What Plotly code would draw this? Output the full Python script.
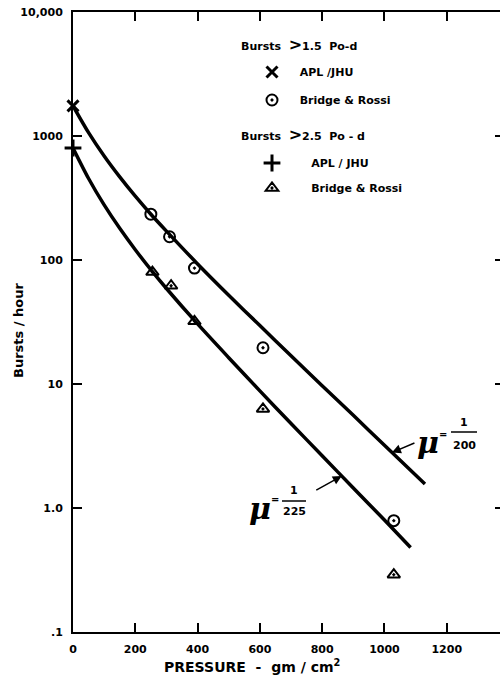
import numpy as np
import plotly.graph_objects as go

# ---------------- data ----------------
pressure_ticks = [0, 200, 400, 600, 800, 1000, 1200]
pressure_labels = ["0", "200", "400", "600", "800", "1000", "1200"]
rate_ticks = [0.1, 1, 10, 100, 1000, 10000]
rate_labels = [".1", "1.0", "10", "100", "1000", "10,000"]

# Bursts > 1.5 Po-d
apl15_x = [0]
apl15_y = [1750]
br15_x = [250, 310, 390, 610, 1030]
br15_y = [234, 154, 86, 19.6, 0.79]

# Bursts > 2.5 Po-d
apl25_x = [0]
apl25_y = [800]
br25_x = [255, 315, 390, 610, 1030]
br25_y = [80, 62, 32, 6.3, 0.29]

# theoretical curves (mu = 1/200 and mu = 1/225)
mu200_x = [0, 50, 100, 150, 200, 250, 300, 400, 500, 600, 700, 800, 900, 1000, 1130]
mu200_y = [1750, 1065, 690, 468, 327, 234, 171, 93, 52, 29.6, 16.9, 9.7, 5.6, 3.2, 1.56]
mu225_x = [0, 50, 100, 150, 200, 255, 300, 400, 500, 600, 700, 800, 900, 1000, 1084]
mu225_y = [800, 454, 278, 180, 121, 80.5, 58.9, 30.5, 16.3, 8.8, 4.8, 2.64, 1.45, 0.80, 0.48]

# ---------------- layout geometry (pixels) ----------------
W, H = 500, 677
L, R, T, B = 73, 500, 12, 632
FONT = "DejaVu Sans"
NB = "\u00a0"


def pxx(xp):
    return (xp - L) / (R - L)


def pxy(yp):
    return (B - yp) / (B - T)


fig = go.Figure()

line_style = dict(color="black", width=3.5, shape="spline", smoothing=0.8)
fig.add_trace(go.Scatter(x=mu200_x, y=mu200_y, mode="lines", line=line_style,
                         showlegend=False, hoverinfo="skip"))
fig.add_trace(go.Scatter(x=mu225_x, y=mu225_y, mode="lines", line=line_style,
                         showlegend=False, hoverinfo="skip"))

fig.add_trace(go.Scatter(x=apl15_x, y=apl15_y, mode="markers", name=NB * 2 + "APL /JHU",
                         marker=dict(symbol="x-thin", size=11, color="black",
                                     line=dict(color="black", width=3)),
                         cliponaxis=False, legend="legend"))
fig.add_trace(go.Scatter(x=br15_x, y=br15_y, mode="markers",
                         name=NB * 2 + "Bridge &amp; Rossi",
                         marker=dict(symbol="circle-open-dot", size=11, color="black",
                                     line=dict(color="black", width=2)),
                         cliponaxis=False, legend="legend2"))
fig.add_trace(go.Scatter(x=apl25_x, y=apl25_y, mode="markers", name=NB * 5 + "APL / JHU",
                         marker=dict(symbol="cross-thin", size=12, color="black",
                                     line=dict(color="black", width=3)),
                         cliponaxis=False, legend="legend3"))
fig.add_trace(go.Scatter(x=br25_x, y=br25_y, mode="markers",
                         name=NB * 5 + "Bridge &amp; Rossi",
                         marker=dict(symbol="triangle-up-open-dot", size=11, color="black",
                                     line=dict(color="black", width=2)),
                         cliponaxis=False, legend="legend4"))

# dummy trace so the right-hand tick axis is drawn
fig.add_trace(go.Scatter(x=[None], y=[None], yaxis="y2", showlegend=False,
                         hoverinfo="skip"))

legend_common = dict(xanchor="left", yanchor="middle", bgcolor="rgba(0,0,0,0)",
                     borderwidth=0, font=dict(family=FONT, size=11, color="black",
                                              weight="bold"),
                     itemclick=False, itemdoubleclick=False)
leg_rows = [(252, 72), (252, 100), (252, 163), (252, 188)]
legends = {}
for i, (lx, ly) in enumerate(leg_rows):
    key = "legend" if i == 0 else f"legend{i + 1}"
    legends[key] = dict(legend_common, x=pxx(lx), y=pxy(ly))

annotations = []


def txt(text, xp, yp, size=11, xanchor="center", family=FONT, angle=0):
    annotations.append(dict(text=text, x=pxx(xp), y=pxy(yp), xref="paper", yref="paper",
                            showarrow=False, xanchor=xanchor, yanchor="middle",
                            textangle=angle,
                            font=dict(family=family, size=size, color="black")))


# legend headings
txt("<b>Bursts  <span style='font-size:16px'>&gt;</span>1.5  Po-d</b>", 239, 44, xanchor="left")
txt("<b>Bursts  <span style='font-size:16px'>&gt;</span>2.5  Po - d</b>", 239, 134, xanchor="left")

# axis titles
txt("<b>Bursts / hour</b>", 18, 330, size=13, angle=-90)
txt("<b>PRESSURE  -  gm / cm<sup>2</sup></b>", 252, 666, size=14)

# mu labels
txt("<b><i>μ</i></b>", 428, 442, size=30, family="DejaVu Serif")
txt("<b>=</b>", 443, 434, size=10)
txt("<b>1</b>", 464, 422, size=11)
txt("<b>200</b>", 464, 445, size=11)
txt("<b><i>μ</i></b>", 260, 508, size=30, family="DejaVu Serif")
txt("<b>=</b>", 275, 499, size=10)
txt("<b>1</b>", 294, 490, size=11)
txt("<b>225</b>", 294, 512, size=11)

shapes = [
    dict(type="line", xref="paper", yref="paper", x0=pxx(451), x1=pxx(477),
         y0=pxy(432), y1=pxy(432), line=dict(color="black", width=1.5)),
    dict(type="line", xref="paper", yref="paper", x0=pxx(282), x1=pxx(306),
         y0=pxy(501), y1=pxy(501), line=dict(color="black", width=1.5)),
]

# arrows pointing at the curves
tip200_x = 1024
tip200_logy = np.interp(tip200_x, mu200_x, np.log10(mu200_y))
tip225_x = 863
tip225_logy = np.interp(tip225_x, mu225_x, np.log10(mu225_y))
for tx, tly, ax, ay in [(tip200_x, tip200_logy, 26, -11), (tip225_x, tip225_logy, -29, 16)]:
    annotations.append(dict(x=tx, y=float(tly), xref="x", yref="y", text=" ",
                            showarrow=True, ax=ax, ay=ay, arrowhead=2, arrowsize=1.2,
                            arrowwidth=1.5, arrowcolor="black", standoff=0))

fig.update_layout(
    width=W, height=H,
    margin=dict(l=L, r=W - R, t=T, b=H - B, autoexpand=False),
    paper_bgcolor="white", plot_bgcolor="white",
    font=dict(family=FONT, color="black"),
    xaxis=dict(range=[0, 1371], tickvals=pressure_ticks,
               ticktext=[f"<b>{t}</b>" for t in pressure_labels],
               ticks="inside", ticklen=9, tickwidth=2, tickcolor="black",
               showline=True, linewidth=2, linecolor="black", mirror="ticks",
               showgrid=False, zeroline=False, automargin=False,
               tickfont=dict(family=FONT, size=11, color="black"),
               ticklabelstandoff=6),
    yaxis=dict(type="log", range=[-1, 4], tickvals=rate_ticks,
               ticktext=[f"<b>{t}</b>" for t in rate_labels],
               ticks="inside", ticklen=9, tickwidth=2, tickcolor="black",
               showline=True, linewidth=2, linecolor="black",
               showgrid=False, zeroline=False, automargin=False,
               tickfont=dict(family=FONT, size=11, color="black"),
               ticklabelstandoff=6),
    yaxis2=dict(type="log", range=[-1, 4], overlaying="y", side="right",
                tickvals=rate_ticks[1:-1], ticks="inside", ticklen=5, tickwidth=2,
                tickcolor="black", showticklabels=False, showline=False,
                showgrid=False, zeroline=False, automargin=False),
    annotations=annotations,
    shapes=shapes,
    **legends,
)

fig.write_html("out.html", config={"displayModeBar": False},
               post_script="document.body.style.margin='0';"
                           "document.body.style.overflow='hidden';")
